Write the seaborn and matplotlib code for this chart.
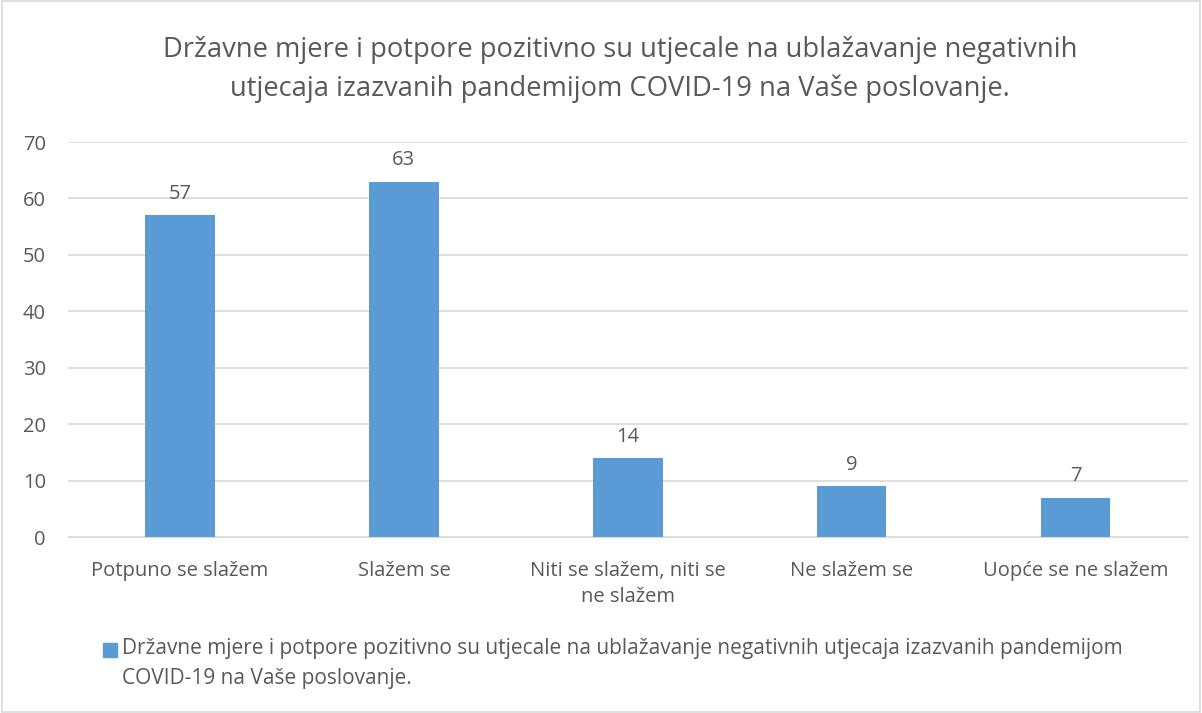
import matplotlib.pyplot as plt
import seaborn as sns
import pandas as pd
from matplotlib.patches import Rectangle

categories = ["Potpuno se slažem", "Slažem se", "Niti se slažem, niti se\nne slažem",
              "Ne slažem se", "Uopće se ne slažem"]
values = [57, 63, 14, 9, 7]
series = ("Državne mjere i potpore pozitivno su utjecale na ublažavanje negativnih utjecaja "
          "izazvanih pandemijom\nCOVID-19 na Vaše poslovanje.")
title = ("Državne mjere i potpore pozitivno su utjecale na ublažavanje negativnih\n"
         "utjecaja izazvanih pandemijom COVID-19 na Vaše poslovanje.")

sns.set_style("white")
plt.rcParams["font.family"] = ["Open Sans", "DejaVu Sans"]
grey = "#595959"
blue = "#5B9BD5"

df = pd.DataFrame({"cat": categories, "val": values})
fig = plt.figure(figsize=(12.02, 7.13), dpi=100)
ax = fig.add_axes([0.0566, 0.2468, 0.9314, 0.554])
sns.barplot(data=df, x="cat", y="val", color=blue, width=0.31, saturation=1,
            linewidth=0, ax=ax)

ax.set_ylim(0, 70)
ax.set_yticks(range(0, 71, 10))
ax.yaxis.grid(True, color="#d9d9d9", linewidth=1.2)
ax.set_axisbelow(True)
for s in ax.spines.values():
    s.set_visible(False)
ax.spines["bottom"].set_visible(True)
ax.spines["bottom"].set_color("#d9d9d9")
ax.set_xlabel("")
ax.set_ylabel("")
ax.tick_params(axis="both", length=0, labelsize=14.5, colors=grey, pad=16)
ax.tick_params(axis="x", pad=17)
for lbl in ax.get_xticklabels():
    lbl.set_linespacing(1.45)

for c in ax.containers:
    ax.bar_label(c, padding=8, fontsize=14.5, color=grey)

fig.text(0.516, 0.903, title, ha="center", va="center", fontsize=19.7, color=grey,
         linespacing=1.5)

# legend
fig.patches.append(Rectangle((103 / 1202, 1 - 657 / 713), 14 / 1202, 14 / 713,
                             transform=fig.transFigure, color=blue))
fig.text(122 / 1202, 1 - 638 / 713, series,
         ha="left", va="top", fontsize=15, color=grey, linespacing=1.55)

# outer border
fig.patches.append(Rectangle((0.002, 0.002), 0.996, 0.996, transform=fig.transFigure,
                             fill=False, edgecolor="#d9d9d9", linewidth=1.2))

fig.savefig("out.png", dpi=100)
